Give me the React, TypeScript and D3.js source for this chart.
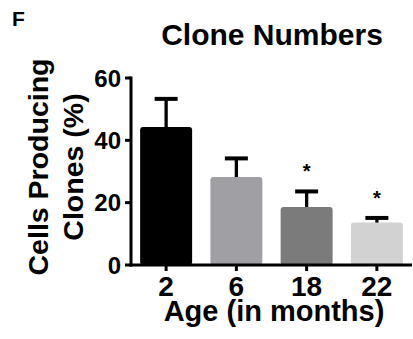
import React from "react";
import * as d3 from "d3";

const categories = ["2", "6", "18", "22"];
const means = [44.3, 28.2, 18.6, 13.6];
const errors = [9.0, 6.0, 5.0, 1.5];
const significant = [false, false, true, true];
const barColors = ["#000000", "#a0a0a4", "#7b7b7b", "#d2d2d2"];
const yTicks = [0, 20, 40, 60];

const W = 413;
const H = 339;
const FONT = "'Liberation Sans', Arial, Helvetica, sans-serif";

export default function App() {
  const x = d3
    .scaleBand<string>()
    .domain(categories)
    .range([131, 412])
    .paddingInner(0.26)
    .paddingOuter(0.13);
  const y = d3.scaleLinear().domain([0, 60]).range([265, 78]);
  const capW = 23;
  const bw = x.bandwidth();

  return (
    <svg
      width={W}
      height={H}
      style={{ position: "absolute", left: 0, top: 0, background: "#fff" }}
      fontFamily={FONT}
      fontWeight="bold"
    >
      <text x={12} y={26} fontSize={21}>F</text>
      <text x={272} y={45} fontSize={30} textAnchor="middle">Clone Numbers</text>

      <g transform="translate(48,167) rotate(-90)">
        <text x={0} y={0} fontSize={28.5} textAnchor="middle">Cells Producing</text>
      </g>
      <g transform="translate(83,167) rotate(-90)">
        <text x={0} y={0} fontSize={28.5} textAnchor="middle">Clones (%)</text>
      </g>

      {categories.map((c, i) => {
        const x0 = x(c)!;
        const cx = x0 + bw / 2;
        const top = y(means[i]);
        const eTop = y(means[i] + errors[i]);
        return (
          <g key={c}>
            <line x1={cx} x2={cx} y1={top + 2} y2={eTop} stroke="#000" strokeWidth={3.3} />
            <line x1={cx - capW / 2} x2={cx + capW / 2} y1={eTop} y2={eTop} stroke="#000" strokeWidth={4} />
            <rect x={x0} y={top} width={bw} height={y(0) - top} fill={barColors[i]} rx={3} ry={3} />
            {significant[i] && (
              <text x={cx} y={eTop - 13} fontSize={20} textAnchor="middle">*</text>
            )}
          </g>
        );
      })}

      {/* y axis */}
      <line x1={131} x2={131} y1={y(60) - 1.5} y2={y(0) + 1.5} stroke="#000" strokeWidth={3} />
      {yTicks.map((t) => (
        <g key={t}>
          <line x1={125} x2={131} y1={y(t)} y2={y(t)} stroke="#000" strokeWidth={3} />
          <text x={121} y={y(t) + 8.5} fontSize={24} textAnchor="end">{t}</text>
        </g>
      ))}

      {/* x axis */}
      <line x1={129.5} x2={412} y1={y(0)} y2={y(0)} stroke="#000" strokeWidth={3} />
      {categories.map((c) => {
        const cx = x(c)! + bw / 2;
        return (
          <g key={c}>
            <line x1={cx} x2={cx} y1={y(0)} y2={y(0) + 6} stroke="#000" strokeWidth={3} />
            <text x={cx} y={296} fontSize={28} textAnchor="middle">{c}</text>
          </g>
        );
      })}
      <text x={274} y={320.5} fontSize={29} textAnchor="middle">Age (in months)</text>
    </svg>
  );
}
